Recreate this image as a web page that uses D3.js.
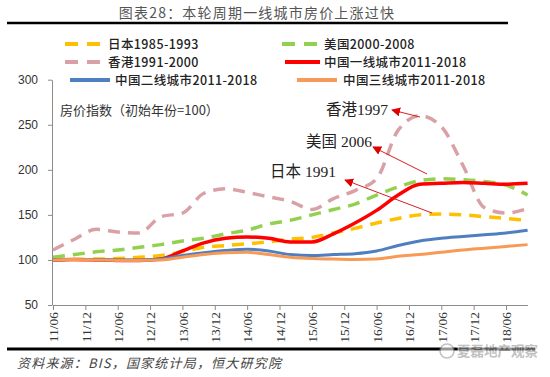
<!DOCTYPE html>
<html>
<head>
<meta charset="utf-8">
<script src="https://cdn.jsdelivr.net/npm/d3@7"></script>
<style>
  html, body { margin: 0; padding: 0; background: #fff; }
  svg { display: block; }
</style>
</head>
<body>
<div id="chart"></div>
<script>
// month index from 2011/06 (0) to 2018/10 (88), sampled every 4 months
const months = [0, 4, 8, 12, 16, 20, 24, 28, 32, 36, 40, 44, 48, 52, 56, 60, 64, 68, 72, 76, 80, 84, 88];

const japan = [100, 100.5, 101, 101.5, 103, 105, 109, 114, 116, 118, 120, 123, 125, 130, 135, 141, 146, 150, 151, 150, 148, 146, 144];
const usa   = [103, 106, 109, 111, 114, 117, 121, 124, 129, 133, 140, 144, 150, 156, 162, 172, 181, 188, 190, 189, 187, 183, 172];
const hk    = [111, 123, 134, 131, 130, 148, 152, 174, 179, 175, 170, 165, 156, 168, 177, 190, 244, 260, 248, 205, 158, 152, 157];
const tier1 = [100, 100.5, 100, 99.5, 99.5, 101, 110, 119, 124, 125.5, 124, 120, 120, 129, 141, 155, 172, 184, 185, 186, 185, 184, 185];
const tier2 = [100, 100.5, 100.5, 100, 100, 101, 105, 108, 110.5, 112, 110, 106, 105, 106, 107, 110, 116, 121, 124, 126, 128, 130, 133];
const tier3 = [100, 100.5, 100, 99.5, 99.5, 100, 103, 106, 108, 108.5, 106, 103, 101.5, 101, 100.5, 101, 104, 106, 108.5, 111, 113, 115, 117];

const tickMonths = [0, 6, 12, 18, 24, 30, 36, 42, 48, 54, 60, 66, 72, 78, 84];
const tickLabels = ["11/06", "11/12", "12/06", "12/12", "13/06", "13/12", "14/06", "14/12",
                    "15/06", "15/12", "16/06", "16/12", "17/06", "17/12", "18/06"];
const yTicks = [50, 100, 150, 200, 250, 300];

const seriesNames = ["日本1985-1993", "美国2000-2008", "香港1991-2000",
                     "中国一线城市2011-2018", "中国二线城市2011-2018", "中国三线城市2011-2018"];

// peaks pointed at by the arrows: [label, month, value]
const peakNotes = [["香港1997", 68, 260], ["美国 2006", 70, 189], ["日本 1991", 70, 151]];

const width = 550, height = 377;
const cjk = "'Noto Sans CJK SC', 'Noto Sans', sans-serif";
const serif = "'Liberation Serif', 'Noto Sans CJK SC', serif";

const svg = d3.select("#chart").append("svg")
    .attr("width", width)
    .attr("height", height);

const defs = svg.append("defs");
defs.append("marker")
    .attr("id", "arrow")
    .attr("viewBox", "0 0 10 10")
    .attr("refX", 9).attr("refY", 5)
    .attr("markerWidth", 9).attr("markerHeight", 9)
    .attr("markerUnits", "userSpaceOnUse")
    .attr("orient", "auto")
    .append("path")
    .attr("d", "M0,0 L10,5 L0,10 Z")
    .attr("fill", "#e00000");

// scales
const x = d3.scaleLinear().domain([0, 88]).range([53, 527.6]);
const y = d3.scaleLinear().domain([50, 300]).range([305, 79.7]);

// title + rules
svg.append("text")
    .attr("x", 257).attr("y", 18)
    .attr("text-anchor", "middle")
    .attr("font-family", cjk)
    .attr("font-size", 14)
    .attr("letter-spacing", 1.2)
    .attr("fill", "#555")
    .text("图表28：本轮周期一线城市房价上涨过快");

svg.append("line")
    .attr("x1", 7).attr("x2", 508)
    .attr("y1", 23).attr("y2", 23)
    .attr("stroke", "#000").attr("stroke-width", 2.5);

svg.append("line")
    .attr("x1", 7).attr("x2", 535)
    .attr("y1", 349).attr("y2", 349)
    .attr("stroke", "#000").attr("stroke-width", 3);

// axes
const yAxis = svg.append("g")
    .attr("transform", `translate(${x(0) - 1},0)`)
    .call(d3.axisLeft(y).tickValues(yTicks).tickSize(4).tickPadding(10).tickSizeOuter(0));

const xAxis = svg.append("g")
    .attr("transform", `translate(0,${y(50)})`)
    .call(d3.axisBottom(x).tickValues(tickMonths)
        .tickFormat((d, i) => tickLabels[i]).tickSize(5).tickSizeOuter(0));

[yAxis, xAxis].forEach(g => {
    g.select(".domain").attr("stroke", "#8c8c8c");
    g.selectAll(".tick line").attr("stroke", "#8c8c8c");
});
yAxis.selectAll("text")
    .attr("font-family", "'Liberation Sans', sans-serif")
    .attr("font-size", 12)
    .attr("fill", "#333");
xAxis.selectAll("text")
    .attr("font-family", "'Liberation Serif', serif")
    .attr("font-size", 13.5)
    .attr("fill", "#333")
    .attr("text-anchor", "end")
    .attr("dy", "0.35em")
    .attr("transform", "translate(0,7) rotate(-90)")
    .attr("x", 0).attr("y", 0);

svg.append("text")
    .attr("x", 60).attr("y", 115)
    .attr("font-family", cjk)
    .attr("font-size", 13)
    .attr("fill", "#333")
    .text("房价指数（初始年份=100）");

// series
const series = [
    { name: seriesNames[0], values: japan, color: "#FFC000", dash: "12,8", w: 3.5 },
    { name: seriesNames[1], values: usa,   color: "#92D050", dash: "12,8", w: 3.5 },
    { name: seriesNames[2], values: hk,    color: "#D9A1A5", dash: "12,8", w: 3.5 },
    { name: seriesNames[3], values: tier1, color: "#FF0000", dash: null,   w: 3.5 },
    { name: seriesNames[4], values: tier2, color: "#4F7FC0", dash: null,   w: 3 },
    { name: seriesNames[5], values: tier3, color: "#F79A56", dash: null,   w: 3 }
];

const line = d3.line()
    .x((d, i) => x(months[i]))
    .y(d => y(d))
    .curve(d3.curveMonotoneX);

svg.append("g").selectAll("path")
    .data(series)
    .join("path")
    .attr("d", d => line(d.values))
    .attr("fill", "none")
    .attr("stroke", d => d.color)
    .attr("stroke-width", d => d.w)
    .attr("stroke-dasharray", d => d.dash)
    .attr("stroke-linejoin", "round");

// legend
const legendPos = [
    [65, 44, 108], [282, 44, 324],
    [65, 62, 108], [285, 62, 324],
    [70, 80, 115], [297, 80, 343]
];
const legend = svg.append("g");
series.forEach((s, i) => {
    const [lx, ly, tx] = legendPos[i];
    legend.append("line")
        .attr("x1", lx).attr("x2", lx + (i >= 4 ? 40 : 35))
        .attr("y1", ly).attr("y2", ly)
        .attr("stroke", s.color)
        .attr("stroke-width", 4)
        .attr("stroke-dasharray", s.dash ? "13,9" : null);
    legend.append("text")
        .attr("x", tx).attr("y", ly)
        .attr("dy", "0.36em")
        .attr("font-family", cjk)
        .attr("font-size", 12.5)
        .attr("letter-spacing", 0.4)
        .attr("font-weight", 500)
        .attr("fill", "#222")
        .text(s.name);
});

// peak annotations
const notePos = [[388, 110, 392, 110, 420, 117], [372, 142, 373, 147, 427, 174], [336, 172, 345, 180, 432, 213]];
peakNotes.forEach((n, i) => {
    const [tx, ty, ax, ay, px, py] = notePos[i];
    svg.append("text")
        .attr("x", tx).attr("y", ty)
        .attr("dy", "0.35em")
        .attr("text-anchor", "end")
        .attr("font-family", serif)
        .attr("font-size", 15.5)
        .attr("fill", "#222")
        .text(n[0]);
    svg.append("line")
        .attr("x1", px).attr("y1", py)
        .attr("x2", ax).attr("y2", ay)
        .attr("stroke", "#d42020")
        .attr("stroke-width", 1)
        .attr("marker-end", "url(#arrow)");
});

// source
svg.append("text")
    .attr("x", 17).attr("y", 368)
    .attr("font-family", cjk)
    .attr("font-size", 13)
    .attr("font-style", "italic")
    .attr("letter-spacing", 1.2)
    .attr("fill", "#444")
    .text("资料来源：BIS，国家统计局，恒大研究院");

// watermark
const wm = svg.append("g").attr("opacity", 0.6);
wm.append("circle")
    .attr("cx", 447).attr("cy", 351).attr("r", 7)
    .attr("fill", "#fff").attr("stroke", "#999").attr("stroke-width", 1.5);
wm.append("text")
    .attr("x", 457).attr("y", 351)
    .attr("dy", "0.36em")
    .attr("font-family", cjk)
    .attr("font-size", 13.5)
    .attr("font-weight", "bold")
    .attr("fill", "#999")
    .attr("stroke", "#fff").attr("stroke-width", 3)
    .attr("paint-order", "stroke")
    .text("夏磊地产观察");
</script>
</body>
</html>
